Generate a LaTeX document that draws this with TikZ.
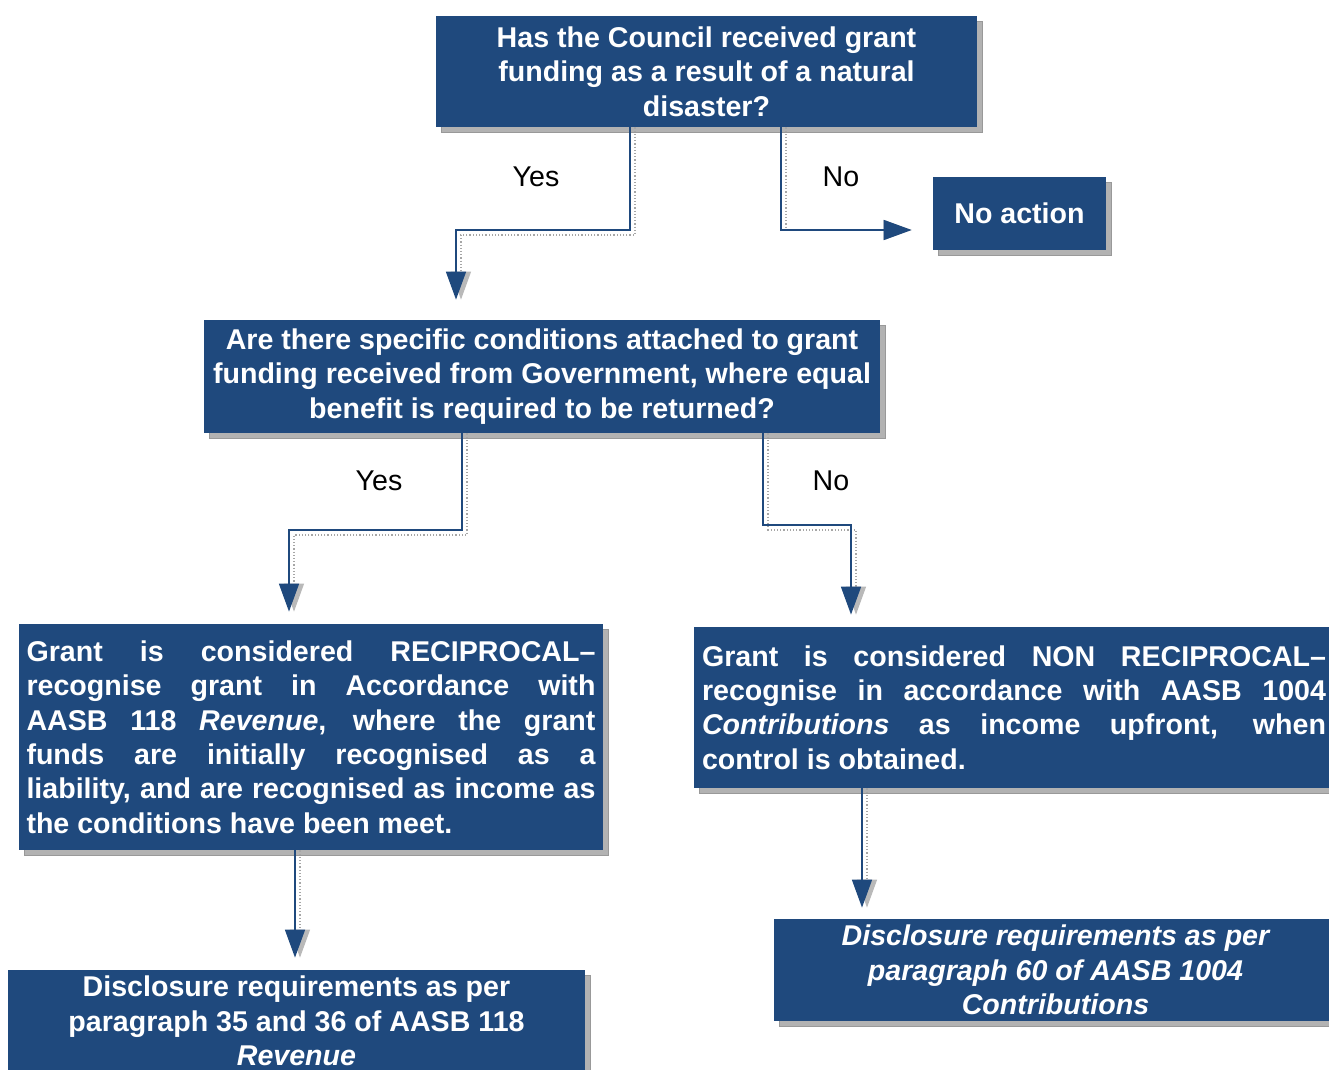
\documentclass[tikz,border=0pt]{standalone}
\usepackage{fontspec}
\setmainfont{Liberation Sans}
\usetikzlibrary{arrows.meta,shadows,calc}
\definecolor{boxblue}{RGB}{31,73,125}
\begin{document}
\begin{tikzpicture}[x=0.5pt,y=-0.5pt,
  box/.style={fill=boxblue, text=white, font=\fontsize{14.3}{17.2}\selectfont\bfseries,
    inner sep=0pt, align=center,
    general shadow={fill=gray!60, draw=gray!80, line width=0.3pt, shadow xshift=2.5pt, shadow yshift=-2.5pt}},
  jbox/.style={box, align=justify},
  lbl/.style={font=\fontsize{14.3}{17.2}\selectfont, text=black},
  conn/.style={draw=boxblue, line width=0.8pt, -{Triangle[length=14pt,width=10pt]}},
  connshadow/.style={draw=gray!70, line width=0.6pt, densely dotted,
    -{Triangle[length=14pt,width=10pt,fill=gray!55,color=gray!55]}, xshift=2.5pt, yshift=-2.5pt}]
\useasboundingbox (0,0) rectangle (1329,1070);
\hyphenpenalty=10000
% boxes
\node[box, minimum width=270.5pt, minimum height=55.5pt] (q1) at (706.5,71.5)
  {Has the Council received grant\\funding as a result of a natural\\disaster?};
\node[box, minimum width=86.5pt, minimum height=36.5pt] (na) at (1019.5,213.5) {No action};
\node[box, minimum width=338pt, minimum height=56.5pt] (q2) at (542,376.5)
  {Are there specific conditions attached to grant\\funding received from Government, where equal\\benefit is required to be returned?};
\node[jbox, minimum width=292pt, minimum height=113pt, text width=284.5pt] (r1) at (311,737)
  {Grant is considered RECIPROCAL–\linebreak recognise grant in Accordance with\linebreak AASB 118 \textit{Revenue}, where the grant\linebreak funds are initially recognised as a\linebreak liability, and are recognised as income as\linebreak the conditions have been meet.};
\node[jbox, minimum width=320pt, minimum height=80.5pt, text width=312pt] (r2) at (1014,707.5)
  {Grant is considered NON RECIPROCAL–\linebreak recognise in accordance with AASB 1004\linebreak \textit{Contributions} as income upfront, when\linebreak control is obtained.};
\node[box, minimum width=288.5pt, minimum height=51pt] (d1) at (296.5,1021)
  {Disclosure requirements as per\\paragraph 35 and 36 of AASB 118\\\textit{Revenue}};
\node[box, minimum width=281.5pt, minimum height=51pt, font=\fontsize{14.3}{17.2}\selectfont\bfseries\itshape] (d2) at (1055.5,970)
  {Disclosure requirements as per\\paragraph 60 of AASB 1004\\Contributions};
% connector shadows
\draw[connshadow] (q1.south -| 630,0) |- (456,230) -- ($(q2.north -| 456,0)+(0,-20)$);
\draw[connshadow] (q1.south -| 781,0) |- ($(na.west)+(-21,16.5)$);
\draw[connshadow] (q2.south -| 462,0) |- (289,530) -- ($(r1.north -| 289,0)+(0,-12)$);
\draw[connshadow] (q2.south -| 763,0) |- (851,525) -- ($(r2.north -| 851,0)+(0,-12)$);
\draw[connshadow] (r1.south -| 295,0) -- ($(d1.north -| 295,0)+(0,-12)$);
\draw[connshadow] (r2.south -| 862,0) -- ($(d2.north -| 862,0)+(0,-11)$);
% connectors
\draw[conn] (q1.south -| 630,0) |- (456,230) -- ($(q2.north -| 456,0)+(0,-20)$);
\draw[conn] (q1.south -| 781,0) |- ($(na.west)+(-21,16.5)$);
\draw[conn] (q2.south -| 462,0) |- (289,530) -- ($(r1.north -| 289,0)+(0,-12)$);
\draw[conn] (q2.south -| 763,0) |- (851,525) -- ($(r2.north -| 851,0)+(0,-12)$);
\draw[conn] (r1.south -| 295,0) -- ($(d1.north -| 295,0)+(0,-12)$);
\draw[conn] (r2.south -| 862,0) -- ($(d2.north -| 862,0)+(0,-11)$);
% labels
\node[lbl] (y1) at (536,177) {Yes};
\node[lbl] (n1) at (841,177) {No};
\node[lbl] (y2) at (379,481) {Yes};
\node[lbl] (n2) at (831,481) {No};
\end{tikzpicture}
\end{document}
